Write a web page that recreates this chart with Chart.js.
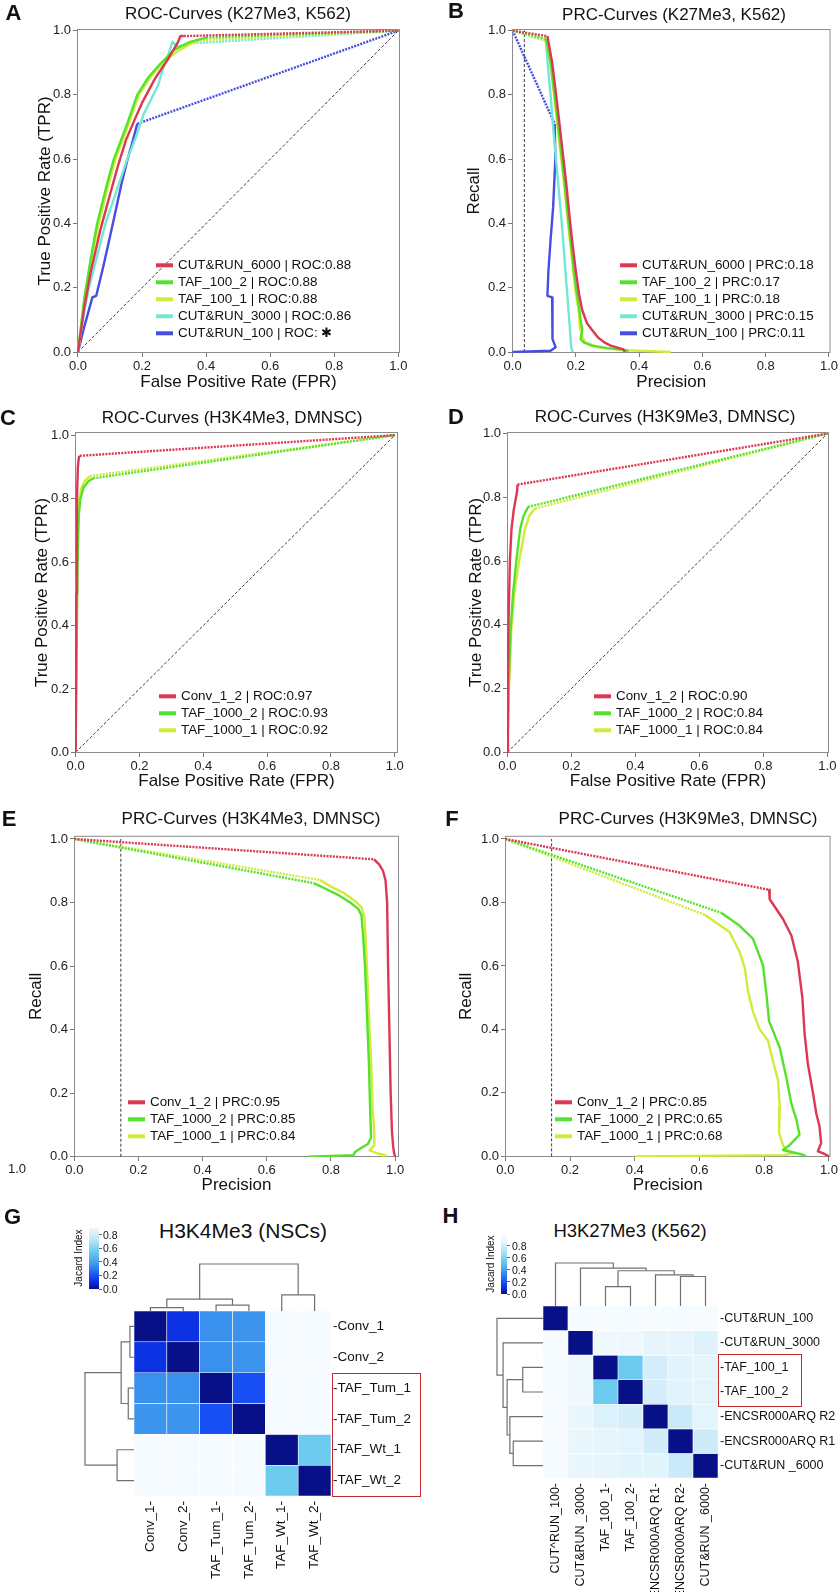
<!DOCTYPE html>
<html>
<head>
<meta charset="utf-8">
<script src="https://cdn.jsdelivr.net/npm/chart.js@4.4.0/dist/chart.umd.min.js"></script>
<style>
  body { margin: 0; background: #fff; font-family: "Liberation Sans", Arial, Helvetica, sans-serif; color: #111; }
  #page { position: relative; width: 840px; height: 1592px; overflow: hidden; background: #fff; }
  canvas { position: absolute; }
  .t { position: absolute; white-space: nowrap; line-height: 1; transform: translate(-50%, -50%); }
  .letter { font-weight: bold; font-size: 22px; }
  .ptitle { font-size: 17px; }
  .leg { position: absolute; display: flex; align-items: center; white-space: nowrap; transform: translateY(-50%); font-size: 13.4px; line-height: 1; }
  .leg span.s { display: inline-block; width: 17px; height: 4px; margin-right: 5px; }
  .redbox { position: absolute; border: 1.5px solid #c62a2f; box-sizing: border-box; }
  .cbar { position: absolute; }
  .cbtick { position: absolute; height: 1px; width: 3px; background: #666; }
  .cblab { position: absolute; font-size: 10.5px; line-height: 1; transform: translateY(-50%); }
</style>
</head>
<body>
<div id="page"></div>
<script>
// ---- tick labels ----
const unitTicks = [0, 0.2, 0.4, 0.6, 0.8, 1.0];
const cbarTicks = [0.8, 0.6, 0.4, 0.2, 0.0];

// ---- A: ROC K27Me3 K562 ----
const aNames = ['CUT&RUN_6000 | ROC:0.88', 'TAF_100_2 | ROC:0.88', 'TAF_100_1 | ROC:0.88', 'CUT&RUN_3000 | ROC:0.86', 'CUT&RUN_100 | ROC: \u2731'];
const aRun6000 = [[0,0],[0.02,0.14],[0.04,0.25],[0.07,0.38],[0.1,0.49],[0.125,0.58],[0.15,0.66],[0.18,0.73],[0.2,0.775],[0.24,0.85],[0.28,0.91],[0.31,0.96],[0.32,0.983],[0.33,0.983],[1,1]];
const aTaf2 = [[0,0],[0.02,0.17],[0.04,0.29],[0.06,0.4],[0.09,0.52],[0.112,0.6],[0.15,0.7],[0.185,0.8],[0.22,0.855],[0.26,0.9],[0.3,0.94],[0.35,0.965],[0.4,0.978],[1,1]];
const aTaf1 = [[0,0],[0.02,0.16],[0.04,0.28],[0.065,0.4],[0.095,0.52],[0.117,0.6],[0.155,0.7],[0.19,0.8],[0.23,0.86],[0.27,0.905],[0.31,0.935],[0.35,0.958],[0.38,0.97],[1,1]];
const aRun3000 = [[0,0],[0.015,0.1],[0.034,0.2],[0.06,0.3],[0.086,0.4],[0.12,0.5],[0.154,0.6],[0.185,0.68],[0.205,0.74],[0.23,0.79],[0.25,0.83],[0.265,0.88],[0.28,0.92],[0.295,0.965],[0.31,0.95],[0.35,0.96],[1,1]];
const aRun100 = [[0,0],[0.02,0.08],[0.045,0.17],[0.057,0.175],[0.08,0.27],[0.109,0.4],[0.135,0.52],[0.155,0.6],[0.172,0.66],[0.185,0.71],[1,1]];

// ---- B: PRC K27Me3 K562 ----
const bNames = ['CUT&RUN_6000 | PRC:0.18', 'TAF_100_2 | PRC:0.17', 'TAF_100_1 | PRC:0.18', 'CUT&RUN_3000 | PRC:0.15', 'CUT&RUN_100 | PRC:0.11'];
const bRun6000 = [[0,1],[0.11,0.983],[0.125,0.9],[0.14,0.78],[0.155,0.65],[0.17,0.52],[0.18,0.42],[0.19,0.33],[0.2,0.25],[0.21,0.18],[0.22,0.13],[0.235,0.09],[0.25,0.07],[0.27,0.045],[0.29,0.03],[0.31,0.02],[0.35,0.008],[0.355,0]];
const bTaf2 = [[0,1],[0.105,0.975],[0.12,0.9],[0.135,0.78],[0.15,0.65],[0.165,0.52],[0.175,0.42],[0.185,0.33],[0.195,0.24],[0.205,0.17],[0.21,0.14],[0.215,0.1],[0.22,0.07],[0.215,0.04],[0.225,0.03],[0.25,0.02],[0.3,0.012],[0.36,0.006],[0.365,0]];
const bTaf1 = [[0,1],[0.105,0.97],[0.12,0.9],[0.133,0.78],[0.148,0.65],[0.163,0.52],[0.173,0.42],[0.183,0.33],[0.193,0.24],[0.2,0.18],[0.21,0.12],[0.212,0.08],[0.22,0.05],[0.23,0.03],[0.27,0.015],[0.35,0.006],[0.5,0]];
const bRun3000 = [[0,1],[0.105,0.968],[0.115,0.85],[0.12,0.8],[0.128,0.7],[0.14,0.57],[0.15,0.46],[0.158,0.37],[0.167,0.25],[0.175,0.15],[0.182,0.06],[0.185,0.015],[0.19,0]];
const bRun100 = [[0,1],[0.133,0.71],[0.135,0.6],[0.128,0.45],[0.12,0.35],[0.113,0.25],[0.11,0.175],[0.125,0.17],[0.125,0.1],[0.127,0.04],[0.136,0.015],[0.12,0.004],[0,0]];
const bBase = 0.037;

// ---- C: ROC H3K4Me3 DMNSC ----
const cNames = ['Conv_1_2 | ROC:0.97', 'TAF_1000_2 | ROC:0.93', 'TAF_1000_1 | ROC:0.92'];
const cConv = [[0,0],[0.002,0.5],[0.004,0.8],[0.007,0.9],[0.01,0.93],[0.013,0.935],[1,1]];
const cTaf2 = [[0,0],[0.003,0.3],[0.006,0.6],[0.01,0.75],[0.015,0.8],[0.025,0.835],[0.04,0.855],[0.055,0.864],[1,1]];
const cTaf1 = [[0,0],[0.003,0.4],[0.006,0.68],[0.01,0.79],[0.017,0.83],[0.028,0.855],[0.045,0.871],[1,1]];

// ---- D: ROC H3K9Me3 DMNSC ----
const dNames = ['Conv_1_2 | ROC:0.90', 'TAF_1000_2 | ROC:0.84', 'TAF_1000_1 | ROC:0.84'];
const dConv = [[0,0],[0.002,0.25],[0.004,0.42],[0.008,0.6],[0.013,0.7],[0.02,0.76],[0.027,0.8],[0.03,0.815],[0.032,0.84],[1,1]];
const dTaf2 = [[0,0],[0.004,0.2],[0.01,0.38],[0.018,0.5],[0.028,0.6],[0.04,0.7],[0.05,0.74],[0.065,0.77],[1,1]];
const dTaf1 = [[0,0],[0.005,0.2],[0.012,0.38],[0.022,0.5],[0.037,0.6],[0.055,0.7],[0.07,0.745],[0.087,0.765],[1,1]];

// ---- E: PRC H3K4Me3 DMNSC ----
const eNames = ['Conv_1_2 | PRC:0.95', 'TAF_1000_2 | PRC:0.85', 'TAF_1000_1 | PRC:0.84'];
const eConv = [[0,1],[0.934,0.936],[0.95,0.92],[0.962,0.9],[0.97,0.87],[0.975,0.8],[0.978,0.6],[0.982,0.4],[0.986,0.2],[0.99,0.08],[0.994,0.03],[0.997,0.01],[1.0,0]];
const eTaf2 = [[0,1],[0.746,0.861],[0.78,0.845],[0.82,0.825],[0.86,0.8],[0.885,0.78],[0.895,0.76],[0.9,0.7],[0.906,0.6],[0.912,0.45],[0.918,0.3],[0.922,0.15],[0.925,0.06],[0.915,0.04],[0.89,0.025],[0.875,0.015],[0.87,0.005],[0.73,0]];
const eTaf1 = [[0,1],[0.766,0.871],[0.8,0.85],[0.84,0.83],[0.875,0.805],[0.895,0.785],[0.905,0.75],[0.912,0.6],[0.918,0.45],[0.925,0.3],[0.93,0.15],[0.935,0.08],[0.935,0.035],[0.92,0.02],[0.945,0.01],[0.97,0.005],[0.96,0]];
const eBase = 0.145;

// ---- F: PRC H3K9Me3 DMNSC ----
const fNames = ['Conv_1_2 | PRC:0.85', 'TAF_1000_2 | PRC:0.65', 'TAF_1000_1 | PRC:0.68'];
const fConv = [[0,1],[0.815,0.84],[0.817,0.81],[0.858,0.748],[0.884,0.696],[0.904,0.613],[0.918,0.499],[0.925,0.385],[0.935,0.291],[0.951,0.198],[0.961,0.135],[0.971,0.094],[0.976,0.042],[0.966,0.016],[0.981,0.01],[0.997,0.002],[1,0]];
const fTaf2 = [[0,1],[0.668,0.767],[0.72,0.73],[0.765,0.686],[0.796,0.603],[0.807,0.51],[0.815,0.426],[0.848,0.343],[0.868,0.25],[0.884,0.166],[0.9,0.114],[0.909,0.068],[0.879,0.036],[0.858,0.02],[0.92,0.005],[0.93,0]];
const fTaf1 = [[0,1],[0.616,0.761],[0.693,0.707],[0.724,0.644],[0.74,0.593],[0.75,0.52],[0.765,0.457],[0.786,0.4],[0.812,0.364],[0.827,0.3],[0.843,0.239],[0.848,0.156],[0.846,0.073],[0.858,0.036],[0.868,0.02],[0.889,0.01],[0.86,0.004],[0.4,0]];
const fBase = 0.143;

// ---- G: heatmap H3K4Me3 (NSCs) ----
const gRows = ['-Conv_1', '-Conv_2', '-TAF_Tum_1', '-TAF_Tum_2', '-TAF_Wt_1', '-TAF_Wt_2'];
const gCols = ['Conv_1-', 'Conv_2-', 'TAF_Tum_1-', 'TAF_Tum_2-', 'TAF_Wt_1-', 'TAF_Wt_2-'];
const gMatrix = [
  [0, 0.11, 0.35, 0.36, 0.97, 0.97],
  [0.11, 0, 0.35, 0.36, 0.97, 0.97],
  [0.35, 0.35, 0, 0.2, 0.97, 0.97],
  [0.36, 0.36, 0.2, 0, 0.97, 0.97],
  [0.97, 0.97, 0.97, 0.97, 0, 0.55],
  [0.97, 0.97, 0.97, 0.97, 0.55, 0]
];
// linkage: [left node, right node, merge height]
const gColLinks = [[0, 1, 0.072], [2, 3, 0.123], [6, 7, 0.254], [4, 5, 0.341], [8, 9, 1]];
const gRowLinks = [[0, 1, 0.083], [2, 3, 0.117], [6, 7, 0.262], [4, 5, 0.345], [8, 9, 1]];

// ---- H: heatmap H3K27Me3 (K562) ----
const hRows = ['-CUT&RUN_100', '-CUT&RUN_3000', '-TAF_100_1', '-TAF_100_2', '-ENCSR000ARQ R2', '-ENCSR000ARQ R1', '-CUT&RUN _6000'];
const hCols = ['CUT^RUN_100-', 'CUT&RUN _3000-', 'TAF_100_1-', 'TAF_100_2-', 'ENCSR000ARQ R1-', 'ENCSR000ARQ R2-', 'CUT&RUN _6000-'];
const hMatrix = [
  [0, 0.97, 0.97, 0.97, 0.97, 0.97, 0.97],
  [0.97, 0, 0.9, 0.9, 0.87, 0.87, 0.84],
  [0.97, 0.9, 0, 0.55, 0.8, 0.85, 0.87],
  [0.97, 0.9, 0.55, 0, 0.81, 0.85, 0.86],
  [0.97, 0.88, 0.83, 0.81, 0, 0.77, 0.86],
  [0.97, 0.88, 0.87, 0.86, 0.79, 0, 0.78],
  [0.97, 0.88, 0.87, 0.85, 0.85, 0.77, 0]
];
const hColLinks = [[2, 3, 0.452], [5, 6, 0.686], [4, 8, 0.726], [7, 9, 0.82], [1, 10, 0.883], [0, 11, 1]];
const hRowLinks = [[2, 3, 0.44], [5, 6, 0.647], [4, 8, 0.72], [7, 9, 0.78], [1, 10, 0.868], [0, 11, 1]];

// ---- colours ----
const RED = '#dc3753', GREEN = '#55e22c', YELLOW = '#d2ea3a', CYAN = '#72e8d4', BLUE = '#464de2';
const cmapStops = [[0, [8, 16, 135]], [0.1, [10, 45, 225]], [0.2, [25, 80, 245]], [0.35, [58, 145, 237]], [0.55, [108, 202, 239]], [0.75, [198, 232, 248]], [0.9, [238, 248, 253]], [1, [248, 252, 255]]];

function cmap(v) {
  for (let i = 1; i < cmapStops.length; i++) {
    if (v <= cmapStops[i][0]) {
      const [v0, c0] = cmapStops[i - 1], [v1, c1] = cmapStops[i];
      const f = (v - v0) / (v1 - v0);
      const c = c0.map((x, k) => Math.round(x + (c1[k] - x) * f));
      return `rgb(${c[0]},${c[1]},${c[2]})`;
    }
  }
  return 'rgb(248,252,255)';
}

Chart.defaults.font.family = '"Liberation Sans", Arial, Helvetica, sans-serif';
Chart.defaults.color = '#111';

const page = document.getElementById('page');

function addCanvas(b) {
  const cv = document.createElement('canvas');
  cv.width = b.w; cv.height = b.h;
  cv.style.left = b.x + 'px'; cv.style.top = b.y + 'px';
  cv.style.width = b.w + 'px'; cv.style.height = b.h + 'px';
  page.appendChild(cv);
  return cv;
}

function addText(str, x, y, cls, css) {
  const d = document.createElement('div');
  d.className = 't ' + (cls || '');
  d.textContent = str;
  d.style.left = x + 'px'; d.style.top = y + 'px';
  if (css) d.style.cssText += css;
  page.appendChild(d);
  return d;
}

function addLegend(x, y0, dy, names, colors) {
  names.forEach((n, i) => {
    const d = document.createElement('div');
    d.className = 'leg';
    d.style.left = x + 'px'; d.style.top = (y0 + i * dy) + 'px';
    const s = document.createElement('span');
    s.className = 's'; s.style.background = colors[i];
    d.appendChild(s);
    d.appendChild(document.createTextNode(n));
    page.appendChild(d);
  });
}

const framePlugin = {
  id: 'frame',
  beforeDatasetsDraw(chart) {
    const {ctx, chartArea: a} = chart;
    ctx.save();
    ctx.strokeStyle = '#8c8c8c';
    ctx.lineWidth = 1;
    ctx.strokeRect(a.left + 0.5, a.top + 0.5, a.right - a.left - 1, a.bottom - a.top - 1);
    ctx.restore();
  }
};

function makeCurves(p) {
  const c = p.canvas, a = p.area;
  const cv = addCanvas(c);
  const sets = p.series.map((s) => {
    const dashAt = p.kind === 'roc' ? s.data.length - 2 : 0;
    return {
      data: s.data.map(d => ({x: d[0], y: d[1]})),
      showLine: true,
      borderColor: s.color,
      borderWidth: 2.4,
      pointRadius: 0,
      borderJoinStyle: 'round',
      segment: {
        borderDash: ctx => ctx.p0DataIndex === dashAt ? [2, 1.2] : undefined
      }
    };
  });
  sets.push({
    data: p.base.map(d => ({x: d[0], y: d[1]})),
    showLine: true, borderColor: '#222', borderWidth: 0.9, borderDash: [3, 2], pointRadius: 0
  });
  const lh = 17 * 1.2 / 2;
  const tickOpts = {
    callback: v => Number(v).toFixed(1),
    font: {size: 13}, color: '#222', padding: 2, maxRotation: 0
  };
  const gridOpts = {drawOnChartArea: false, drawTicks: true, tickLength: 4, color: '#777'};
  new Chart(cv, {
    type: 'scatter',
    data: {datasets: sets},
    options: {
      responsive: false, animation: false, devicePixelRatio: 1,
      layout: {padding: {left: 0, top: a.t - c.y, right: c.x + c.w - a.r, bottom: 0}},
      plugins: {legend: {display: false}, tooltip: {enabled: false}},
      scales: {
        x: {
          type: 'linear', min: p.xr[0], max: p.xr[1],
          afterFit: s => { s.height = c.y + c.h - a.b; },
          afterBuildTicks: s => { s.ticks = unitTicks.map(v => ({value: v})); },
          ticks: tickOpts, grid: gridOpts, border: {display: false},
          title: {display: true, text: p.xTitle, font: {size: 17}, color: '#111',
                  padding: {top: 0, bottom: c.y + c.h - p.xTitleY - lh}}
        },
        y: {
          type: 'linear', min: p.yr[0], max: p.yr[1],
          afterFit: s => { s.width = a.l - c.x; },
          afterBuildTicks: s => { s.ticks = unitTicks.map(v => ({value: v})); },
          ticks: tickOpts, grid: gridOpts, border: {display: false},
          title: {display: true, text: p.yTitle, font: {size: 17}, color: '#111',
                  padding: {top: p.yTitleX - c.x - lh, bottom: 0}}
        }
      }
    },
    plugins: [framePlugin]
  });
}

function makeHeat(p) {
  const c = p.canvas, a = p.area, n = p.rows.length;
  const cv = addCanvas(c);
  new Chart(cv, {
    type: 'bar',
    data: {
      labels: p.cols,
      datasets: p.matrix.map(row => ({
        data: row.map(() => 1),
        backgroundColor: row.map(cmap),
        borderColor: '#ffffff', borderWidth: 0.6, borderSkipped: false,
        barPercentage: 1, categoryPercentage: 1
      }))
    },
    options: {
      responsive: false, animation: false, devicePixelRatio: 1,
      layout: {padding: {left: a.l - c.x, top: a.t - c.y, right: 0, bottom: 0}},
      plugins: {legend: {display: false}, tooltip: {enabled: false}},
      scales: {
        x: {
          stacked: true,
          afterFit: s => { s.height = c.y + c.h - a.b; },
          ticks: {autoSkip: false, minRotation: 90, maxRotation: 90, padding: 5, font: {size: p.font}, color: '#111'},
          grid: {display: false, drawTicks: false}, border: {display: false}
        },
        y: {
          stacked: true, position: 'right', reverse: true, min: 0, max: n,
          afterFit: s => { s.width = c.x + c.w - a.r; },
          afterBuildTicks: s => { s.ticks = p.rows.map((r, i) => ({value: i + 0.5})); },
          ticks: {callback: (v, i) => p.rows[i], padding: 2, font: {size: p.font}, color: '#111'},
          grid: {display: false, drawTicks: false}, border: {display: false}
        }
      }
    }
  });
}

function dendroSegs(links, n) {
  const pos = [], hgt = [];
  for (let i = 0; i < n; i++) { pos.push(i); hgt.push(0); }
  return links.map(([l, r, h]) => {
    const seg = [[pos[l], hgt[l]], [pos[l], h], [pos[r], h], [pos[r], hgt[r]]];
    pos.push((pos[l] + pos[r]) / 2);
    hgt.push(h);
    return seg;
  });
}

function makeDendro(p) {
  const a = p.area;
  const cv = addCanvas({x: a.l - 2, y: a.t - 2, w: a.r - a.l + 4, h: a.b - a.t + 4});
  const top = p.orient === 'top';
  const segs = dendroSegs(p.links, p.n);
  new Chart(cv, {
    type: 'scatter',
    data: {
      datasets: segs.map(sg => ({
        data: sg.map(([pp, h]) => top ? {x: pp, y: h} : {x: h, y: pp}),
        showLine: true, borderColor: '#707070', borderWidth: 1.2, pointRadius: 0, clip: false
      }))
    },
    options: {
      responsive: false, animation: false, devicePixelRatio: 1,
      layout: {padding: 2},
      plugins: {legend: {display: false}, tooltip: {enabled: false}},
      scales: top ? {
        x: {type: 'linear', display: false, min: -0.5, max: p.n - 0.5},
        y: {type: 'linear', display: false, min: 0, max: 1}
      } : {
        x: {type: 'linear', display: false, min: 0, max: 1, reverse: true},
        y: {type: 'linear', display: false, min: -0.5, max: p.n - 0.5, reverse: true}
      }
    }
  });
}

function makeColorbar(x, w, yTop, yBot, topVal, labX) {
  const stops = [];
  for (let i = 0; i <= 10; i++) {
    const v = topVal * i / 10;
    stops.push(cmap(v) + ' ' + (i * 10) + '%');
  }
  const d = document.createElement('div');
  d.className = 'cbar';
  d.style.left = x + 'px'; d.style.top = yTop + 'px';
  d.style.width = w + 'px'; d.style.height = (yBot - yTop) + 'px';
  d.style.background = 'linear-gradient(to top, ' + stops.join(', ') + ')';
  page.appendChild(d);
  cbarTicks.forEach(v => {
    const y = yBot - v / topVal * (yBot - yTop);
    const t = document.createElement('div');
    t.className = 'cbtick';
    t.style.left = (x + w) + 'px'; t.style.top = (y - 0.5) + 'px';
    page.appendChild(t);
    const l = document.createElement('div');
    l.className = 'cblab';
    l.textContent = v.toFixed(1);
    l.style.left = labX + 'px'; l.style.top = y + 'px';
    page.appendChild(l);
  });
}

const diag = [[0, 0], [1, 1]];
const fiveColors = [RED, GREEN, YELLOW, CYAN, BLUE];
const threeColors = [RED, GREEN, YELLOW];
const ser = (arrs, cols) => arrs.map((d, i) => ({data: d, color: cols[i]}));

// A
makeCurves({
  kind: 'roc', canvas: {x: 0, y: 0, w: 420, h: 395}, area: {l: 77, t: 29, r: 400, b: 353},
  xr: [-0.003, 1.005], yr: [-0.003, 1.005], xTitle: 'False Positive Rate (FPR)', yTitle: 'True Positive Rate (TPR)',
  xTitleY: 382, yTitleX: 45, base: diag,
  series: ser([aRun6000, aTaf2, aTaf1, aRun3000, aRun100], fiveColors)
});
// B
makeCurves({
  kind: 'prc', canvas: {x: 420, y: 0, w: 420, h: 395}, area: {l: 512, t: 29, r: 834, b: 353},
  xr: [-0.002, 1.005], yr: [-0.003, 1.005], xTitle: 'Precision', yTitle: 'Recall',
  xTitleY: 382, yTitleX: 474, base: [[bBase, 0], [bBase, 1]],
  series: ser([bRun6000, bTaf2, bTaf1, bRun3000, bRun100], fiveColors)
});
// C
makeCurves({
  kind: 'roc', canvas: {x: 0, y: 398, w: 420, h: 396}, area: {l: 75, t: 432, r: 398, b: 753},
  xr: [-0.002, 1.01], yr: [-0.002, 1.01], xTitle: 'False Positive Rate (FPR)', yTitle: 'True Positive Rate (TPR)',
  xTitleY: 781, yTitleX: 42, base: diag,
  series: ser([cConv, cTaf2, cTaf1], threeColors)
});
// D
makeCurves({
  kind: 'roc', canvas: {x: 420, y: 398, w: 420, h: 396}, area: {l: 507, t: 432, r: 829, b: 753},
  xr: [-0.001, 1.005], yr: [-0.002, 1.005], xTitle: 'False Positive Rate (FPR)', yTitle: 'True Positive Rate (TPR)',
  xTitleY: 781, yTitleX: 476, base: diag,
  series: ser([dConv, dTaf2, dTaf1], threeColors)
});
// E
makeCurves({
  kind: 'prc', canvas: {x: 0, y: 826, w: 420, h: 374}, area: {l: 74, t: 833, r: 399, b: 1157},
  xr: [-0.001, 1.012], yr: [-0.001, 1.01], xTitle: 'Precision', yTitle: 'Recall',
  xTitleY: 1185, yTitleX: 36, base: [[eBase, 0], [eBase, 1]],
  series: ser([eConv, eTaf2, eTaf1], threeColors)
});
// F
makeCurves({
  kind: 'prc', canvas: {x: 420, y: 826, w: 420, h: 374}, area: {l: 505, t: 834, r: 831, b: 1157},
  xr: [-0.001, 1.005], yr: [-0.002, 1.01], xTitle: 'Precision', yTitle: 'Recall',
  xTitleY: 1185, yTitleX: 466, base: [[fBase, 0], [fBase, 1]],
  series: ser([fConv, fTaf2, fTaf1], threeColors)
});

// G
makeDendro({orient: 'top', links: gColLinks, n: 6, area: {l: 134, t: 1264, r: 331, b: 1311}});
makeDendro({orient: 'left', links: gRowLinks, n: 6, area: {l: 85, t: 1311, r: 134, b: 1496}});
makeHeat({canvas: {x: 120, y: 1300, w: 300, h: 292}, area: {l: 134, t: 1311, r: 331, b: 1496},
  rows: gRows, cols: gCols, matrix: gMatrix, font: 13.5});
makeColorbar(89, 10, 1228, 1289, 0.9, 103);

// H
makeDendro({orient: 'top', links: hColLinks, n: 7, area: {l: 543, t: 1263, r: 718, b: 1306}});
makeDendro({orient: 'left', links: hRowLinks, n: 7, area: {l: 497, t: 1306, r: 543, b: 1478}});
makeHeat({canvas: {x: 530, y: 1295, w: 310, h: 297}, area: {l: 543, t: 1306, r: 718, b: 1478},
  rows: hRows, cols: hCols, matrix: hMatrix, font: 12.5});
makeColorbar(501, 6, 1235, 1294, 0.98, 512);

// titles and letters
addText('A', 13.5, 12.5, 'letter');
addText('B', 456, 11, 'letter');
addText('C', 8, 417.5, 'letter');
addText('D', 456, 417, 'letter');
addText('E', 9, 819, 'letter');
addText('F', 452, 819, 'letter');
addText('G', 12.5, 1216.5, 'letter');
addText('H', 450.5, 1215.5, 'letter');
addText('ROC-Curves (K27Me3, K562)', 238, 13, 'ptitle');
addText('PRC-Curves (K27Me3, K562)', 674, 14, 'ptitle');
addText('ROC-Curves (H3K4Me3, DMNSC)', 232, 417, 'ptitle');
addText('ROC-Curves (H3K9Me3, DMNSC)', 665, 416, 'ptitle');
addText('PRC-Curves (H3K4Me3, DMNSC)', 251, 818, 'ptitle');
addText('PRC-Curves (H3K9Me3, DMNSC)', 688, 818, 'ptitle');
addText('H3K4Me3 (NSCs)', 243, 1230, '', 'font-size:21px;');
addText('H3K27Me3 (K562)', 630, 1231, '', 'font-size:18.5px;');
addText('1.0', 17, 1168, '', 'font-size:13px;color:#222;');
addText('Jacard Index', 79, 1258, '', 'font-size:10px;transform:translate(-50%,-50%) rotate(-90deg);');
addText('Jacard Index', 491, 1264, '', 'font-size:10px;transform:translate(-50%,-50%) rotate(-90deg);');

// legends
addLegend(156, 265, 17, aNames, fiveColors);
addLegend(620, 265, 17, bNames, fiveColors);
addLegend(159, 696, 17, cNames, threeColors);
addLegend(594, 696, 17, dNames, threeColors);
addLegend(128, 1102, 17, eNames, threeColors);
addLegend(555, 1102, 17, fNames, threeColors);

// highlight boxes
[[332, 1373, 88.5, 123.5], [718, 1354, 84, 52.5]].forEach(([x, y, w, h]) => {
  const d = document.createElement('div');
  d.className = 'redbox';
  d.style.left = x + 'px'; d.style.top = y + 'px';
  d.style.width = w + 'px'; d.style.height = h + 'px';
  page.appendChild(d);
});
</script>
</body>
</html>
